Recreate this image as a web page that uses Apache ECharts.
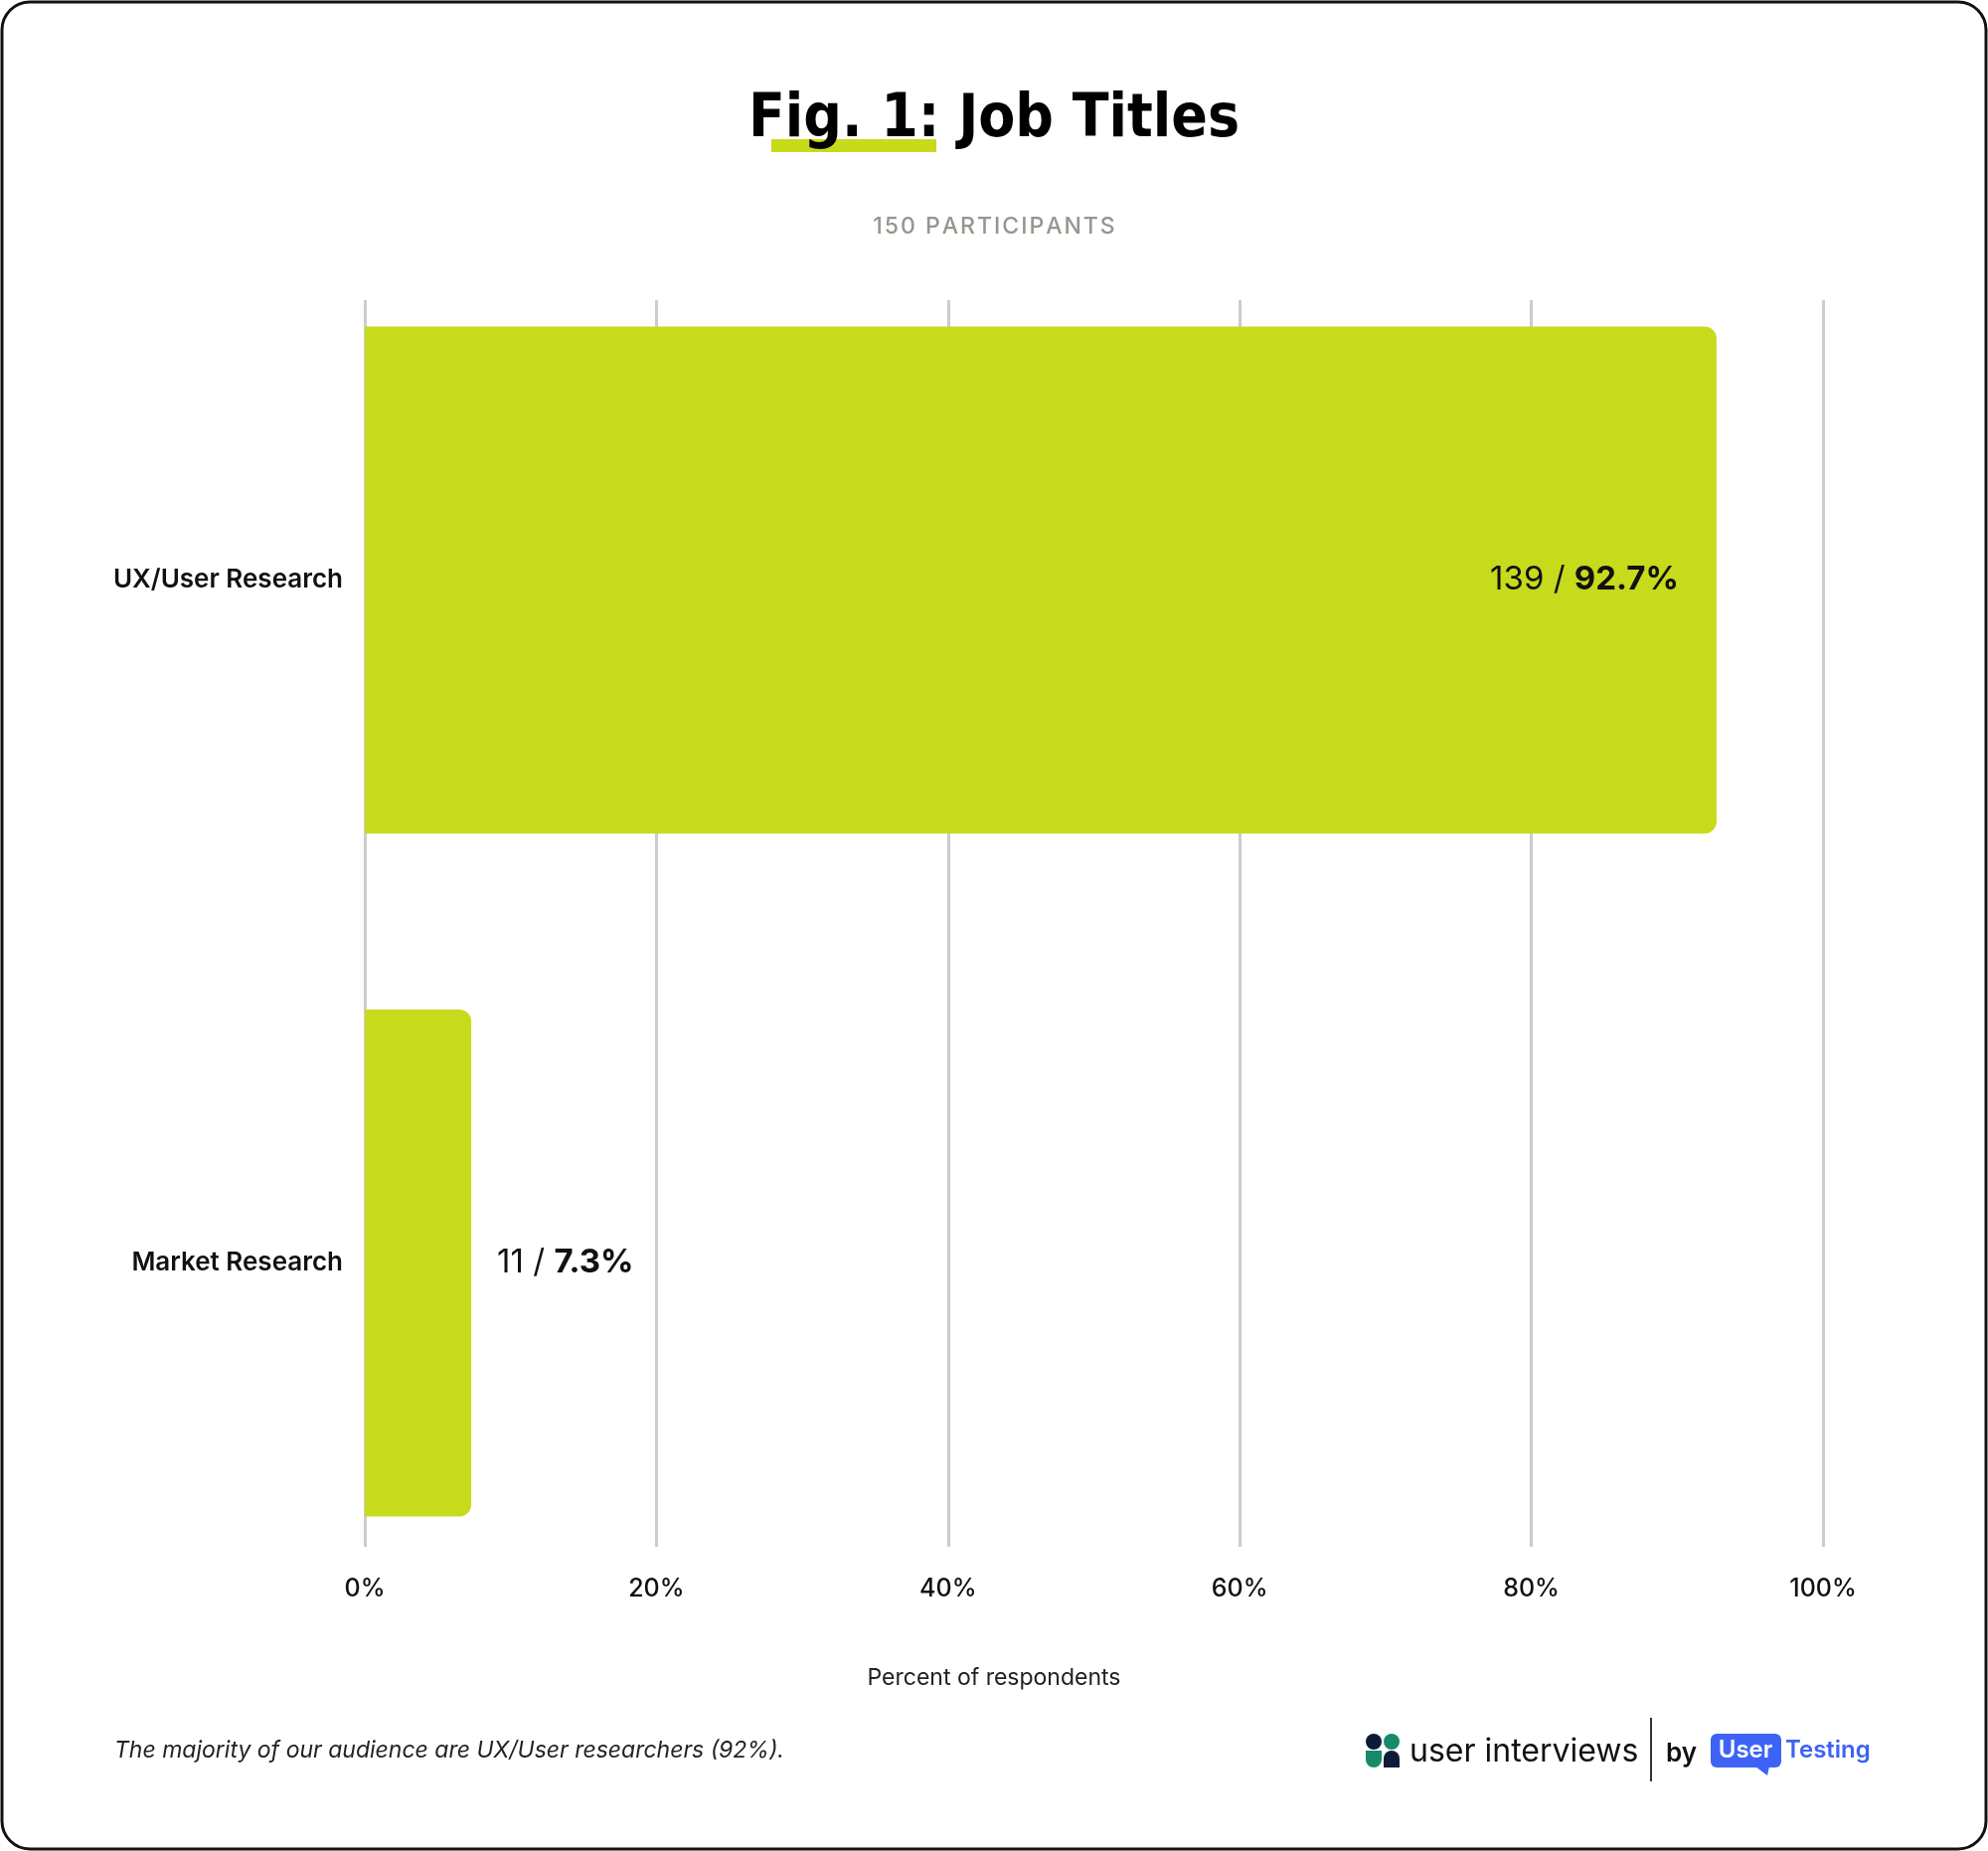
<!DOCTYPE html>
<html>
<head>
<meta charset="utf-8">
<script src="https://cdn.jsdelivr.net/npm/echarts@6/dist/echarts.min.js"></script>
<style>
  html, body { margin: 0; padding: 0; background: #fff; }
  #chart { width: 2000px; height: 1862px; }
</style>
</head>
<body>
<div id="chart"></div>
<script>
const categories = ["UX/User Research", "Market Research"];
const percents = [92.7, 7.3];
const counts = [139, 11];
const tickMax = 100;
const tickStep = 20;

const green = "#c7da1c";
const font = "Inter, 'DejaVu Sans', sans-serif";

const myChart = echarts.init(document.getElementById("chart"));

const option = {
  backgroundColor: "#fff",
  animation: false,
  grid: [
    { left: 367, right: 166, top: 302, bottom: 306 },
    { left: 367, right: 166, top: 240, bottom: 248 }
  ],
  xAxis: [
    {
      gridIndex: 0,
      type: "value",
      min: 0,
      max: tickMax,
      interval: tickStep,
      axisLine: { show: false },
      axisTick: { show: false },
      splitLine: { lineStyle: { color: "#cccccc", width: 3 } },
      axisLabel: {
        formatter: "{value}%",
        color: "#111",
        fontFamily: font,
        fontSize: 25,
        fontWeight: 500,
        margin: 30
      }
    },
    {
      gridIndex: 1,
      type: "value",
      min: 0,
      max: tickMax,
      interval: tickStep,
      show: false
    }
  ],
  yAxis: [
    {
      gridIndex: 0,
      type: "category",
      data: categories,
      show: false
    },
    {
      gridIndex: 1,
      type: "category",
      inverse: true,
      data: categories,
      axisLine: { show: false },
      axisTick: { show: false },
      axisLabel: {
        color: "#111",
        fontFamily: font,
        fontSize: 26,
        fontWeight: 600,
        margin: 22
      }
    }
  ],
  series: [
    {
      type: "bar",
      xAxisIndex: 1,
      yAxisIndex: 1,
      barWidth: 510,
      data: percents.map((v, i) => ({
        value: v,
        label: {
          position: i === 0 ? "insideRight" : "right",
          distance: i === 0 ? 38 : 26
        }
      })),
      itemStyle: { color: green, borderRadius: [0, 12, 12, 0] },
      label: {
        show: true,
        fontFamily: font,
        fontSize: 33,
        color: "#111",
        formatter: p => "{n|" + counts[p.dataIndex] + " / }{b|" + p.value + "%}",
        rich: {
          n: { fontFamily: font, fontSize: 33, color: "#111", fontWeight: 400 },
          b: { fontFamily: font, fontSize: 33, color: "#111", fontWeight: 700 }
        }
      }
    }
  ],
  graphic: [
    {
      type: "rect",
      shape: { x: 2, y: 2, width: 1996, height: 1858, r: 28 },
      style: { fill: "none", stroke: "#111", lineWidth: 3 },
      silent: true
    },
    {
      type: "rect",
      shape: { x: 776, y: 140, width: 166, height: 13 },
      style: { fill: green },
      z: 1
    },
    {
      type: "text",
      x: 1000, y: 121,
      style: {
        text: "Fig. 1: Job Titles",
        fontFamily: "'DejaVu Sans Condensed', sans-serif",
        fontWeight: 900,
        fontSize: 60,
        fill: "#000",
        align: "center",
        verticalAlign: "middle"
      },
      z: 2
    },
    {
      type: "text",
      x: 1000, y: 228,
      style: {
        text: "150 PARTICIPANTS".split("").join("\u200a"),
        fontFamily: font,
        fontWeight: 500,
        fontSize: 23,
        fill: "#9a948c",
        align: "center",
        verticalAlign: "middle"
      }
    },
    {
      type: "text",
      x: 1000, y: 1688,
      style: {
        text: "Percent of respondents",
        fontFamily: font,
        fontSize: 23,
        fill: "#222",
        align: "center",
        verticalAlign: "middle"
      }
    },
    {
      type: "text",
      x: 115, y: 1761,
      style: {
        text: "The majority of our audience are UX/User researchers (92%).",
        fontFamily: font,
        fontStyle: "italic",
        fontSize: 23,
        fill: "#222",
        verticalAlign: "middle"
      }
    },
    // user interviews logo
    { type: "circle", shape: { cx: 1382, cy: 1752, r: 8 }, style: { fill: "#0d1b3a" } },
    { type: "circle", shape: { cx: 1400, cy: 1752, r: 8 }, style: { fill: "#178a6a" } },
    { type: "rect", shape: { x: 1374, y: 1761, width: 16, height: 17, r: [0, 0, 8, 8] }, style: { fill: "#178a6a" } },
    { type: "rect", shape: { x: 1392, y: 1761, width: 16, height: 17, r: [8, 8, 0, 0] }, style: { fill: "#0d1b3a" } },
    {
      type: "text", x: 1418, y: 1762,
      style: { text: "user interviews", fontFamily: font, fontSize: 32, fill: "#111", verticalAlign: "middle" }
    },
    { type: "line", shape: { x1: 1661, y1: 1728, x2: 1661, y2: 1792 }, style: { stroke: "#333", lineWidth: 2 } },
    {
      type: "text", x: 1676, y: 1764,
      style: { text: "by", fontFamily: font, fontSize: 26, fontWeight: 600, fill: "#111", verticalAlign: "middle" }
    },
    { type: "rect", shape: { x: 1721, y: 1744, width: 71, height: 34, r: 6 }, style: { fill: "#3d63f5" } },
    { type: "polygon", shape: { points: [[1766, 1777], [1780, 1777], [1778, 1786]] }, style: { fill: "#3d63f5" } },
    {
      type: "text", x: 1756, y: 1761,
      style: { text: "User", fontFamily: font, fontSize: 24, fontWeight: 600, fill: "#fff", align: "center", verticalAlign: "middle" }
    },
    {
      type: "text", x: 1796, y: 1761,
      style: { text: "Testing", fontFamily: font, fontSize: 24, fontWeight: 600, fill: "#3d63f5", verticalAlign: "middle" }
    }
  ]
};

myChart.setOption(option);
window.onresize = function () {
  myChart.resize();
};
</script>
</body>
</html>
